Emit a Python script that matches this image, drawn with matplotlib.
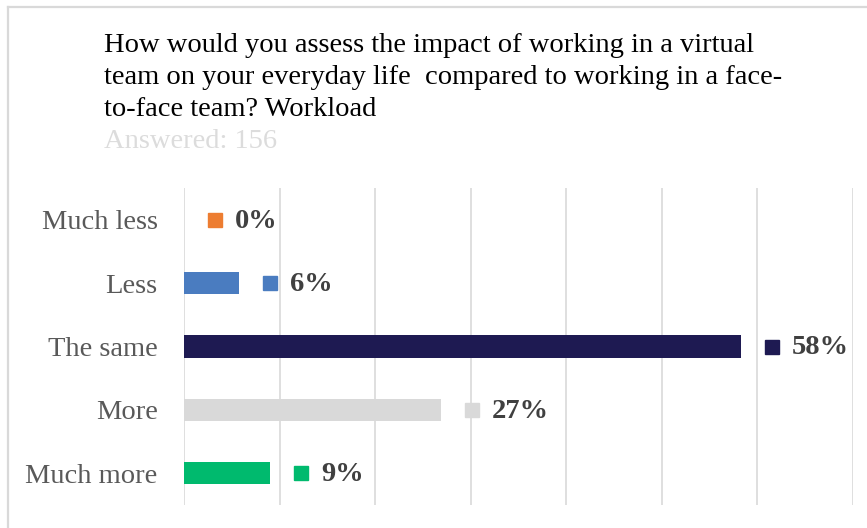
import numpy as np
import matplotlib
matplotlib.use('Agg')
import matplotlib.pyplot as plt
from matplotlib.transforms import offset_copy

plt.rcParams['font.family'] = ['Liberation Serif', 'DejaVu Serif']

# Respuestas (porcentaje, 156 respuestas)
categorias = ['Much less', 'Less', 'The same', 'More', 'Much more']
porcentajes = [0.0, 5.8, 58.3, 26.9, 9.0]
colores = ['#ED7D31', '#4A7CC0', '#1E1A52', '#D9D9D9', '#00BA6E']
titulo = ['How would you assess the impact of working in a virtual',
          'team on your everyday life  compared to working in a face-',
          'to-face team? Workload']
subtitulo = 'Answered: 156'

fig = plt.figure(figsize=(8.67, 5.28), dpi=100)
W, H = 867, 528

# marco gris arriba e izquierda
fig.add_artist(plt.Line2D([8 / W, 1], [1 - 7 / H, 1 - 7 / H], color='#D9D9D9', lw=1.6))
fig.add_artist(plt.Line2D([8 / W, 8 / W], [0, 1 - 7 / H], color='#D9D9D9', lw=1.6))

# titulo, una linea cada vez
for k, linea in enumerate(titulo):
    fig.text(104 / W, 1 - (52 + 32 * k) / H, linea, fontsize=20.5,
             family='Liberation Serif', color='#000000', ha='left', va='baseline')
fig.text(104 / W, 1 - 148 / H, subtitulo, fontsize=20.5, family='Liberation Serif',
         color='#DCDCDC', ha='left', va='baseline')

ax = fig.add_axes([184 / W, 1 - 505 / H, (853 - 184) / W, (505 - 188) / H])
y = np.arange(len(categorias))
ax.barh(y, porcentajes, height=0.35, color=colores, zorder=3)

ax.set_xlim(0, 70)
ax.set_ylim(len(categorias) - 0.5, -0.5)
ax.set_xticks(np.arange(0, 71, 10))
ax.set_xticklabels([])
ax.tick_params(axis='x', length=0)
ax.set_yticks(y)
ax.set_yticklabels(categorias, fontsize=20.5, color='#595959')
ax.tick_params(axis='y', length=0, pad=19)
ax.grid(axis='x', color='#D9D9D9', lw=1.2, zorder=0)
for s in ax.spines.values():
    s.set_visible(False)

# etiquetas: cuadrado de color + porcentaje
marca_tr = offset_copy(ax.transData, fig=fig, x=31 * 72 / 100, y=0, units='points')
for i, (v, c) in enumerate(zip(porcentajes, colores)):
    ax.plot([v], [i], marker='s', markersize=10, color=c, transform=marca_tr,
            clip_on=False, zorder=4)
    ax.annotate(f'{v:.0f}%', xy=(v, i), xytext=(51 * 72 / 100, -1),
                textcoords='offset points', ha='left', va='center',
                fontsize=20.5, fontweight='bold', color='#404040',
                annotation_clip=False)

fig.savefig('out.png', dpi=100)
